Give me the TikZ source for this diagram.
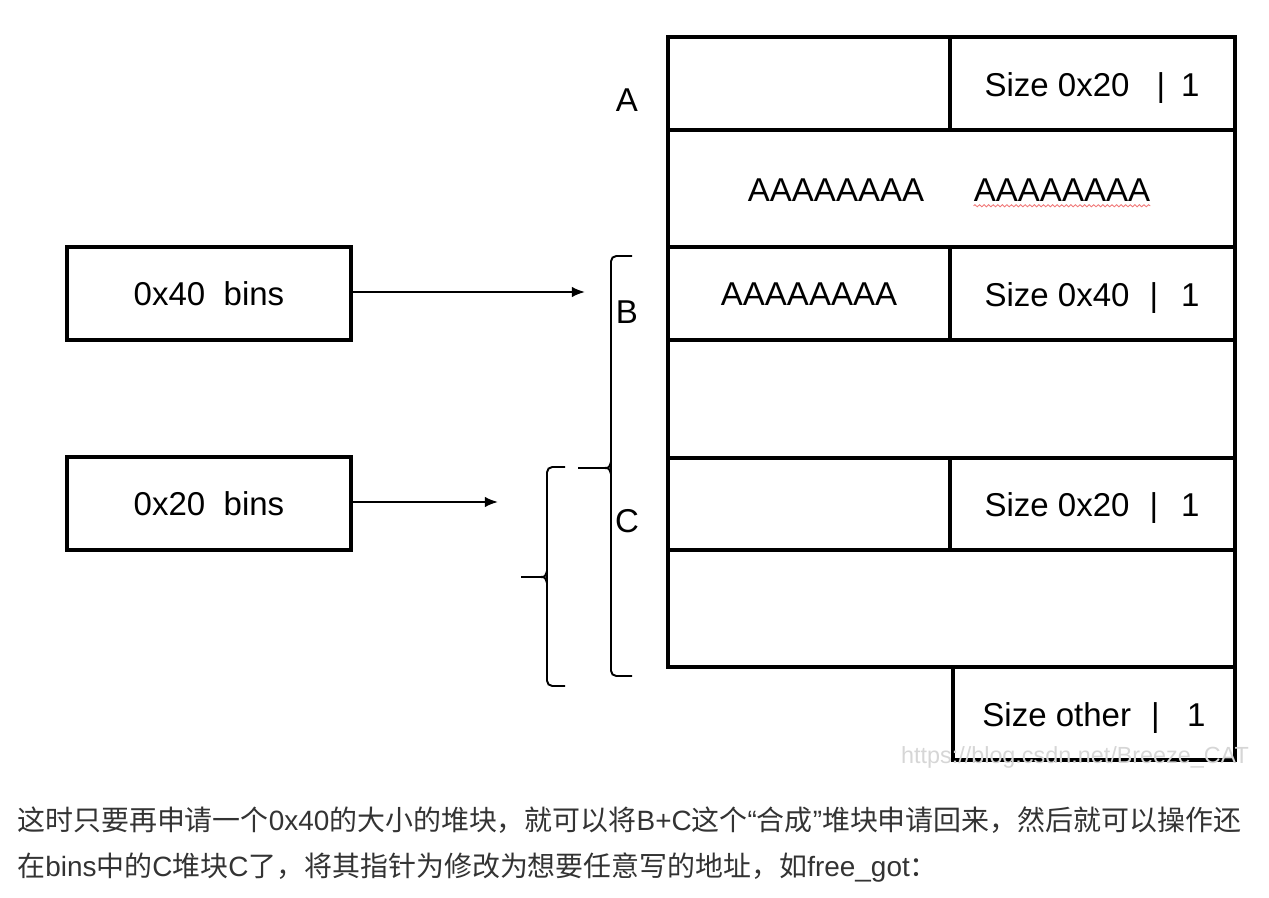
\documentclass[tikz,border=0pt]{standalone}
\usepackage{fontspec}
\setmainfont{Liberation Sans}
\newfontfamily\cjkfont{Noto Sans CJK SC}
\newcommand\latn[1]{{\normalfont #1}}
\usetikzlibrary{arrows.meta,decorations.pathmorphing}

\begin{document}
\begin{tikzpicture}[x=0.02cm,y=-0.02cm]
\definecolor{noteGray}{HTML}{333333}
\definecolor{markGray}{HTML}{D6D6D6}
\definecolor{spellRed}{HTML}{F07878}
\tikzset{
  cell/.style={draw,line width=1.8pt},
  binbox/.style={draw,line width=1.8pt,minimum width=5.68cm,minimum height=1.86cm,inner sep=0pt,font=\fontsize{18.8}{22}\selectfont},
  lab/.style={inner sep=0pt,font=\fontsize{18.8}{22}\selectfont},
  brace/.style={line width=1.1pt,rounded corners=3pt},
  ptr/.style={line width=1.1pt,-{Latex[length=7.5pt,width=6pt]}},
  note/.style={inner sep=0pt,text=noteGray,font=\cjkfont\fontsize{15.9}{19}\selectfont}
}
\useasboundingbox (0,0) rectangle (1269,898);
% heap chunks
\draw[cell] (668,37) rectangle (950,130);
\draw[cell] (950,37) rectangle (1235,130);
\draw[cell] (668,130) rectangle (1235,247);
\draw[cell] (668,247) rectangle (950,340);
\draw[cell] (950,247) rectangle (1235,340);
\draw[cell] (668,340) rectangle (1235,458);
\draw[cell] (668,458) rectangle (950,550);
\draw[cell] (950,458) rectangle (1235,550);
\draw[cell] (668,550) rectangle (1235,667);
\draw[cell] (953,667) rectangle (1235,760);
\node[lab] (sizeA) at (1092,88) {Size 0x20\hspace{0.54cm}|\hspace{0.32cm}1};
\node[lab] (fillA) at (836,190) {AAAAAAAA};
\node[lab] (fillB) at (1062,190) {AAAAAAAA};
\node[lab] (fillC) at (809,294) {AAAAAAAA};
\node[lab] (sizeB) at (1092,298) {Size 0x40\hspace{0.4cm}|\hspace{0.46cm}1};
\node[lab] (sizeC) at (1092,508) {Size 0x20\hspace{0.4cm}|\hspace{0.46cm}1};
\node[lab] (sizeOther) at (1094,718) {Size other\hspace{0.4cm}|\hspace{0.55cm}1};
\draw[spellRed,line width=0.5pt,decorate,decoration={snake,amplitude=0.6pt,segment length=2.6pt}]
  ([yshift=-2.5pt]fillB.base west) -- ([yshift=-2.5pt]fillB.base east);
% chunk names
\node[lab] (nameA) at (627,100) {A};
\node[lab] (nameB) at (627,312) {B};
\node[lab] (nameC) at (627,521) {C};
% braces
\draw[brace] (632,256) -- (611,256) -- (611,676) -- (632,676);
\draw[line width=1.1pt] (578,468) -- (604,468) .. controls (609,468) .. (611,462);
\draw[line width=1.1pt] (604,468) .. controls (609,468) .. (611,474);
\draw[brace] (565,467) -- (547,467) -- (547,686) -- (565,686);
\draw[line width=1.1pt] (521,577) -- (540,577) .. controls (545,577) .. (547,571);
\draw[line width=1.1pt] (540,577) .. controls (545,577) .. (547,583);
% bins
\node[binbox] (bin40) at (209,293.5) {0x40~~bins};
\node[binbox] (bin20) at (209,503.5) {0x20~~bins};
\coordinate (tipB) at (585,292);
\coordinate (tipC) at (498,502);
\draw[ptr] (bin40.east |- tipB) -- (tipB);
\draw[ptr] (bin20.east |- tipC) -- (tipC);
% watermark
\node[inner sep=0pt,text=markGray,font=\fontsize{13.3}{16}\selectfont] (mark) at (1075,757) {https://blog.csdn.net/Breeze\_CAT};
% text below
\node[note,anchor=base west] (note1) at (17,830) {这时只要再申请一个\latn{0x40}的大小的堆块，就可以将\latn{B+C}这个\latn{“}合成\latn{”}堆块申请回来，然后就可以操作还};
\node[note,anchor=base west] (note2) at (17,876) {在\latn{bins}中的\latn{C}堆块\latn{C}了，将其指针为修改为想要任意写的地址，如\latn{free\_got}：};
\end{tikzpicture}
\end{document}
